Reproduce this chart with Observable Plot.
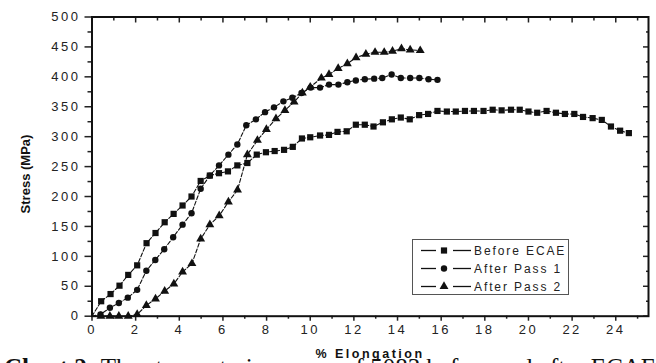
<!DOCTYPE html>
<html><head><meta charset="utf-8">
<script src="https://cdn.jsdelivr.net/npm/d3@7"></script>
<script src="https://cdn.jsdelivr.net/npm/@observablehq/plot@0.6"></script>
<style>
body{margin:0;background:#fff;overflow:hidden;width:656px;height:363px;position:relative;font-family:Arial,"Liberation Sans",sans-serif;}
#chart{position:absolute;left:0;top:0;}
#legend{position:absolute;left:412px;top:239px;width:155px;height:54px;border:1.5px solid #555;background:#fff;}
#caption{position:absolute;left:4px;top:355px;font-family:"Liberation Serif","DejaVu Serif",serif;font-size:25px;line-height:25px;white-space:nowrap;color:#111;}
</style></head><body>
<div id="chart"></div>
<div id="legend"></div>
<div id="caption"><b>Chart 2:</b> The stress-strain curves of 5083 before and after ECAE</div>
<script>
const seriesNames = ["Before ECAE", "After Pass 1", "After Pass 2"];
const seriesSymbols = ["square", "circle", "triangle"];

const beforeX = [0, 0.42, 0.85, 1.26, 1.66, 2.07, 2.5, 2.91, 3.33, 3.74, 4.15, 4.56, 4.98, 5.4, 5.82, 6.23, 6.66, 7.12, 7.55, 7.97, 8.37, 8.8, 9.2, 9.62, 10.0, 10.45, 10.86, 11.25, 11.67, 12.09, 12.5, 12.9, 13.33, 13.74, 14.15, 14.56, 14.99, 15.4, 15.83, 16.26, 16.67, 17.09, 17.5, 17.94, 18.36, 18.77, 19.2, 19.6, 20.0, 20.4, 20.83, 21.26, 21.67, 22.1, 22.5, 22.94, 23.36, 23.78, 24.2, 24.6];
const beforeY = [0, 25, 37, 51, 69, 85, 122, 139, 157, 171, 185, 200, 226, 235, 239, 242, 252, 256, 270, 274, 276, 278, 283, 297, 299, 302, 303, 308, 309, 320, 320, 317, 324, 329, 332, 329, 336, 338, 343, 342, 342, 343, 343, 343, 345, 344, 345, 345, 342, 340, 343, 340, 338, 338, 333, 331, 328, 317, 310, 306];

const pass1X = [0, 0.39, 0.82, 1.23, 1.64, 2.07, 2.49, 2.9, 3.31, 3.72, 4.15, 4.56, 4.98, 5.4, 5.82, 6.25, 6.66, 7.07, 7.51, 7.93, 8.34, 8.77, 9.18, 9.6, 10.02, 10.45, 10.86, 11.29, 11.7, 12.09, 12.5, 12.93, 13.3, 13.73, 14.15, 14.58, 15.0, 15.42, 15.83];
const pass1Y = [0, 3, 14, 22, 31, 44, 76, 94, 112, 132, 153, 172, 213, 235, 252, 270, 287, 319, 329, 341, 349, 359, 365, 373, 382, 382, 387, 387, 391, 394, 396, 397, 398, 404, 398, 398, 398, 396, 395];

const pass2X = [0, 0.41, 0.82, 1.23, 1.66, 2.07, 2.49, 2.91, 3.33, 3.75, 4.15, 4.58, 4.98, 5.4, 5.83, 6.25, 6.67, 7.12, 7.58, 7.99, 8.43, 8.84, 9.26, 9.64, 10.0, 10.51, 10.86, 11.28, 11.7, 12.1, 12.55, 12.97, 13.39, 13.77, 14.18, 14.58, 15.04];
const pass2Y = [0, 0, 0, 0, 0, 3, 18, 29, 42, 54, 74, 88, 129, 153, 168, 191, 211, 270, 294, 312, 330, 344, 358, 373, 383, 398, 404, 414, 422, 432, 438, 441, 441, 443, 447, 445, 444];

const xMajor = [0, 2, 4, 6, 8, 10, 12, 14, 16, 18, 20, 22, 24];
const xMinor = [1, 3, 5, 7, 9, 11, 13, 15, 17, 19, 21, 23, 25];
const yMajor = [0, 50, 100, 150, 200, 250, 300, 350, 400, 450, 500];
const yMinor = [25, 75, 125, 175, 225, 275, 325, 375, 425, 475];

const toRows = (xs, ys, s) => xs.map((x, i) => ({x, y: ys[i], s}));
const all = [toRows(beforeX, beforeY, 0), toRows(pass1X, pass1Y, 1), toRows(pass2X, pass2Y, 2)];
const rows = all.flat();
const ink = "#111";
const dotR = [3.5, 3.2, 3.3];

const chart = Plot.plot({
  width: 656,
  height: 363,
  marginLeft: 91.5,
  marginRight: 8,
  marginTop: 16.5,
  marginBottom: 47.3,
  style: {fontFamily: "Arial, 'Liberation Sans', sans-serif", fontSize: "13px", color: "#222", background: "transparent", letterSpacing: "2.5px"},
  x: {domain: [0, 25.5]},
  y: {domain: [0, 500]},
  marks: [
    Plot.line(rows, {x: "x", y: "y", z: "s", stroke: ink, strokeWidth: 1.1, strokeDasharray: "4,2"}),
    ...all.map((r, i) => Plot.dot(r.filter(d => d.x > 0), {x: "x", y: "y", symbol: seriesSymbols[i], fill: ink, r: dotR[i]})),
    Plot.axisY({ticks: yMajor, tickSize: 7, tickPadding: 4.5, label: null, strokeWidth: 1.5}),
    Plot.axisY({ticks: yMinor, tickSize: 4, text: null, label: null, strokeWidth: 1.5}),
    Plot.axisY({anchor: "right", ticks: yMajor, tickSize: 6, dx: -6, text: null, label: null, strokeWidth: 1.5}),
    Plot.axisY({anchor: "right", ticks: yMinor, tickSize: 3, dx: -3, text: null, label: null, strokeWidth: 1.5}),
    Plot.axisX({ticks: xMajor, tickSize: 5, tickPadding: 4, label: null, strokeWidth: 1.5}),
    Plot.axisX({ticks: xMinor.filter(v => v < 25.5), tickSize: 3, text: null, label: null, strokeWidth: 1.5}),
    Plot.axisX({anchor: "top", ticks: xMajor, tickSize: 5, dy: 5, text: null, label: null, strokeWidth: 1.5}),
    Plot.axisX({anchor: "top", ticks: xMinor, tickSize: 3, dy: 3, text: null, label: null, strokeWidth: 1.5}),
    Plot.frame({stroke: ink, strokeWidth: 2}),
    Plot.text(["Stress (MPa)"], {text: d => d, frameAnchor: "left", rotate: -90, fontWeight: "bold", fontSize: 13, fill: ink}),
    Plot.text(["% Elongation"], {text: d => d, frameAnchor: "bottom", fontWeight: "bold", fontSize: 12.5, fill: ink})
  ]
});
document.getElementById("chart").appendChild(chart);

// place axis titles by their rendered box centre
function placeCentre(label, cx, cy, ls) {
  chart.querySelectorAll("text").forEach(t => {
    if (t.textContent !== label) return;
    if (ls != null) t.style.letterSpacing = ls;
    const b = t.getBoundingClientRect();
    const tx = cx - (b.left + b.width / 2), ty = cy - (b.top + b.height / 2);
    t.setAttribute("transform", `translate(${tx},${ty}) ` + (t.getAttribute("transform") || ""));
  });
}
placeCentre("Stress (MPa)", 25, 174, "0px");
placeCentre("% Elongation", 370, 354, null);

// legend
const lg = d3.select("#legend").append("svg").attr("width", 155).attr("height", 54);
const rowY = [12, 30, 48];
seriesNames.forEach((name, i) => {
  const g = lg.append("g").attr("transform", `translate(0,${rowY[i] - 1.5})`);
  g.append("line").attr("x1", 8).attr("x2", 23).attr("stroke", ink).attr("stroke-width", 1.3);
  g.append("line").attr("x1", 40).attr("x2", 58).attr("stroke", ink).attr("stroke-width", 1.3);
  const sym = {square: d3.symbolSquare, circle: d3.symbolCircle, triangle: d3.symbolTriangle}[seriesSymbols[i]];
  g.append("path").attr("transform", "translate(31,0)").attr("d", d3.symbol(sym, Math.PI * dotR[i] * dotR[i])()).attr("fill", ink);
  g.append("text").attr("x", 61).attr("y", 0).attr("dy", "0.35em").text(name)
    .style("font-family", "Arial, 'Liberation Sans', sans-serif").style("font-size", "12px").style("letter-spacing", "1.9px").attr("fill", "#222");
});
</script>
</body></html>
